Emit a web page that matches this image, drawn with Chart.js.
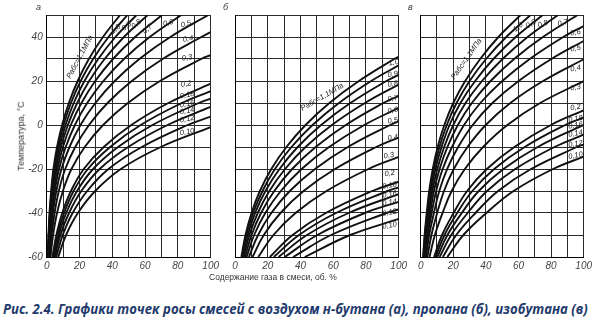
<!DOCTYPE html>
<html>
<head>
<meta charset="utf-8">
<script src="https://cdn.jsdelivr.net/npm/chart.js@4.4.1/dist/chart.umd.min.js"></script>
<style>
  html, body { margin: 0; padding: 0; background: #fff; }
  body { width: 600px; height: 327px; position: relative; overflow: hidden; font-family: "Liberation Sans", Arial, sans-serif; }
  canvas { position: absolute; top: 0; }
  .txt { position: absolute; white-space: nowrap; color: #333; }
</style>
</head>
<body>
<canvas id="chartA" width="222" height="277" style="left:0px"></canvas>
<canvas id="chartB" width="185" height="277" style="left:225px"></canvas>
<canvas id="chartC" width="185" height="277" style="left:410px"></canvas>

<div class="txt" style="left:36px;top:2px;font-size:9px;font-style:italic">а</div>
<div class="txt" style="left:223px;top:2px;font-size:9px;font-style:italic">б</div>
<div class="txt" style="left:408px;top:2px;font-size:9px;font-style:italic">в</div>
<div class="txt" id="yTitle" style="font-size:9px">Температура, °С</div>
<div class="txt" id="xTitle" style="font-size:8.5px">Содержание газа в смеси, об. %</div>
<div class="txt" id="caption">Рис. 2.4. Графики точек росы смесей с воздухом н-бутана (а), пропана (б), изобутана (в)</div>

<script>
// temperature levels (°C) used for every curve, x values below are read at these levels
const tempLevels = [-60, -50, -40, -30, -20, -10, 0, 10, 20, 30, 40, 50];

// absolute pressure of each curve, MPa (same order in all panels)
const pressures = [1.1, 1.0, 0.9, 0.8, 0.7, 0.6, 0.5, 0.4, 0.3, 0.2, 0.18, 0.16, 0.14, 0.12, 0.10];

// а — н-бутан: gas content, % at tempLevels
const butaneX = [
  [0.6, 1.1, 1.7, 2.7, 4.1, 6.3, 9.4, 13.5, 18.9, 25.7, 34.3, 44.8],
  [0.7, 1.2, 1.9, 3.0, 4.5, 7.0, 10.3, 14.8, 20.7, 28.3, 37.7, 49.3],
  [0.8, 1.3, 2.1, 3.3, 5.0, 7.7, 11.5, 16.5, 23.0, 31.4, 41.9, 54.8],
  [0.9, 1.5, 2.4, 3.7, 5.7, 8.7, 12.9, 18.6, 25.9, 35.3, 47.1, 61.6],
  [1.0, 1.7, 2.7, 4.2, 6.5, 9.9, 14.7, 21.2, 29.6, 40.4, 53.9, 70.4],
  [1.2, 2.0, 3.2, 4.9, 7.5, 11.6, 17.2, 24.7, 34.6, 47.1, 62.8, 82.1],
  [1.4, 2.4, 3.8, 5.9, 9.0, 13.9, 20.6, 29.7, 41.5, 56.5, 75.4, 98.6],
  [1.8, 3.0, 4.8, 7.4, 11.3, 17.4, 25.8, 37.1, 51.9, 70.7, 94.3],
  [2.3, 3.9, 6.3, 9.9, 15.1, 23.2, 34.4, 49.5, 69.1, 94.2],
  [3.5, 5.9, 9.5, 14.8, 22.6, 34.8, 51.6, 74.2],
  [3.9, 6.6, 10.6, 16.4, 25.1, 38.7, 57.3, 82.4],
  [4.4, 7.4, 11.9, 18.5, 28.3, 43.5, 64.5, 92.8],
  [5.0, 8.4, 13.6, 21.1, 32.3, 49.7, 73.7],
  [5.8, 9.8, 15.8, 24.7, 37.7, 58.0, 86.0],
  [7.0, 11.8, 19.0, 29.6, 45.2, 69.6]
];
// temperature where the curve reaches 100 % (null = leaves through the top)
const butaneEndT = [null, null, null, null, null, null, null, 42.2, 31.8, 18.8, 15.4, 12.0, 8.2, 3.8, -1.0];

// б — пропан
const propaneX = [
  [3.9, 6.4, 10.1, 15.2, 22.2, 31.4, 43.1, 57.7, 75.7, 97.3],
  [4.3, 7.0, 11.1, 16.8, 24.4, 34.5, 47.4, 63.5, 83.2],
  [4.7, 7.8, 12.3, 18.6, 27.2, 38.3, 52.6, 70.5, 92.5],
  [5.3, 8.8, 13.9, 21.0, 30.6, 43.1, 59.2, 79.4],
  [6.1, 10.1, 15.9, 24.0, 34.9, 49.3, 67.7, 90.7],
  [7.1, 11.7, 18.5, 28.0, 40.7, 57.5, 79.0],
  [8.5, 14.1, 22.2, 33.5, 48.9, 69.0, 94.8],
  [10.7, 17.6, 27.8, 41.9, 61.1, 86.3],
  [14.2, 23.5, 37.0, 55.9, 81.5],
  [21.3, 35.2, 55.5, 83.9],
  [23.7, 39.1, 61.7, 93.2],
  [26.6, 44.0, 69.4],
  [30.4, 50.3, 79.3],
  [35.5, 58.7, 92.5],
  [42.6, 70.4]
];
const propaneEndT = [31.0, 27.1, 22.8, 18.4, 13.3, 7.8, 1.6, -5.7, -14.5, -25.8, -28.4, -31.4, -34.9, -38.4, -42.7];

// в — изобутан
const isobutaneX = [
  [1.5, 2.4, 3.7, 5.2, 7.4, 10.4, 14.5, 20.0, 27.3, 36.5, 47.7, 61.3],
  [1.6, 2.6, 4.0, 5.7, 8.1, 11.5, 16.0, 22.0, 30.0, 40.1, 52.5, 67.4],
  [1.8, 2.9, 4.5, 6.3, 9.0, 12.8, 17.7, 24.4, 33.4, 44.6, 58.3, 74.9],
  [2.0, 3.3, 5.0, 7.1, 10.2, 14.4, 20.0, 27.5, 37.6, 50.2, 65.6, 84.3],
  [2.3, 3.7, 5.8, 8.1, 11.6, 16.4, 22.8, 31.4, 42.9, 57.3, 75.0, 96.3],
  [2.7, 4.4, 6.7, 9.5, 13.5, 19.2, 26.6, 36.6, 50.1, 66.9, 87.5],
  [3.3, 5.2, 8.1, 11.4, 16.2, 23.0, 31.9, 44.0, 60.1, 80.2],
  [4.1, 6.6, 10.1, 14.3, 20.3, 28.7, 39.9, 55.0, 75.1],
  [5.4, 8.7, 13.4, 19.0, 27.1, 38.3, 53.2, 73.3],
  [8.2, 13.1, 20.2, 28.5, 40.6, 57.5, 79.9],
  [9.1, 14.6, 22.4, 31.7, 45.1, 63.8, 88.7],
  [10.2, 16.4, 25.2, 35.6, 50.8, 71.8],
  [11.6, 18.7, 28.8, 40.7, 58.0, 82.1],
  [13.6, 21.8, 33.6, 47.5, 67.7, 95.8],
  [16.3, 26.2, 40.3, 57.0, 81.2]
];
const isobutaneEndT = [null, null, null, null, null, 45.0, 38.2, 29.9, 19.9, 6.7, 3.4, 0.1, -4.4, -8.9, -14.4];

const xTicks = [0, 20, 40, 60, 80, 100];
const yTicks = [-60, -40, -20, 0, 20, 40];

// curve labels: text, gas %, °C, rotation
const butaneLabels = [
  ["1,0", 42, 43.6, -40], ["0,9", 48.7, 45, -40], ["0,8", 54.7, 45.9, -40], ["0,7", 61.4, 43.6, -40],
  ["0,6", 74.1, 46.4, -15], ["0,5", 85, 45.9, -15], ["0,4", 86.2, 39.1, -10], ["0,3", 85.6, 30.5, -10],
  ["0,2", 85, 18.6, -10], ["0,18", 85.6, 13.6, -10], ["0,16", 85.6, 9.5, -10], ["0,14", 85.6, 6.4, -10],
  ["0,12", 85.6, 2.7, -10], ["0,10", 85.6, -3.2, -10], ["Рабс=1,1МПа", 20.2, 30.9, -62]
];
const propaneLabels = [
  ["1,0", 97, 28.4, -10], ["0,9", 96.4, 23, -10], ["0,8", 96.4, 18.6, -10], ["0,7", 96.4, 12, -10],
  ["0,6", 96.4, 6.6, -10], ["0,5", 96.4, 2, -10], ["0,4", 96.4, -5.7, -10], ["0,3", 94, -13.9, -10],
  ["0,2", 94.5, -22, -10], ["0,18", 94.5, -27.5, -10], ["0,16", 94.5, -31.6, -10], ["0,14", 94.5, -35.2, -10],
  ["0,12", 94.5, -39.8, -10], ["0,10", 94.5, -45.7, -10], ["Рабс=1,1МПа", 53.3, 12.7, -30]
];
const isobutaneLabels = [
  ["1,0", 59.8, 44.5, -40], ["0,9", 67.7, 45.9, -30], ["0,8", 75, 45.9, -20], ["0,7", 87.1, 46.4, -15],
  ["0,6", 95, 42, -10], ["0,5", 95, 34.8, -10], ["0,4", 95, 25.7, -10], ["0,3", 95, 17, -10],
  ["0,2", 95, 8, -10], ["0,18", 95, 2.7, -10], ["0,16", 95, -0.2, -10], ["0,14", 95, -3.9, -10],
  ["0,12", 95, -8.6, -10], ["0,10", 95, -13.9, -10], ["Рабс=1,1МПа", 28.1, 30, -55]
];

// ===== curve labels plugin =====
const curveLabels = {
  id: "curveLabels",
  afterDatasetsDraw(chart, args, opts) {
    const { ctx, scales: { x, y } } = chart;
    ctx.save();
    ctx.fillStyle = "#222";
    ctx.textAlign = "center";
    ctx.textBaseline = "middle";
    (opts.items || []).forEach(([t, gx, gt, ang]) => {
      ctx.save();
      ctx.translate(x.getPixelForValue(gx), y.getPixelForValue(gt));
      ctx.rotate(ang * Math.PI / 180);
      ctx.font = t.length > 5 ? "italic 7.5px 'Liberation Sans', Arial" : "italic 7.5px 'Liberation Sans', Arial";
      ctx.fillText(t, 0, 0);
      ctx.restore();
    });
    ctx.restore();
  }
};

function makePanel(id, curvesX, endT, labels, yWidth, padRight, showY) {
  const datasets = curvesX.map((row, i) => {
    const pts = row.map((v, j) => ({ x: v, y: tempLevels[j] }));
    if (endT[i] !== null) pts.push({ x: 100, y: endT[i] });
    return {
      label: String(pressures[i]),
      data: pts,
      borderColor: "#111",
      borderWidth: 1.9,
      pointRadius: 0,
      tension: 0.4,
      fill: false
    };
  });
  return new Chart(document.getElementById(id), {
    type: "line",
    data: { datasets },
    options: {
      responsive: false,
      animation: false,
      layout: { padding: { left: 0, top: 15, right: padRight, bottom: 0 } },
      plugins: { legend: { display: false }, tooltip: { enabled: false }, curveLabels: { items: labels } },
      scales: {
        x: {
          type: "linear", min: 0, max: 100,
          afterFit: (s) => { s.height = 20; },
          grid: { color: "#2a2a2a", lineWidth: 1, drawTicks: false },
          border: { color: "#000", width: 1 },
          ticks: {
            stepSize: 10, autoSkip: false, maxRotation: 0, padding: 3, color: "#444",
            font: { size: 10, style: "italic", family: "'Liberation Sans', Arial" },
            callback: (v) => (xTicks.includes(v) ? v : "")
          }
        },
        y: {
          min: -60, max: 50,
          afterFit: (s) => { s.width = yWidth; },
          grid: { color: "#2a2a2a", lineWidth: 1, drawTicks: false },
          border: { color: "#000", width: 1 },
          ticks: {
            stepSize: 10, autoSkip: false, padding: 4, color: "#444",
            font: { size: 10, style: "italic", family: "'Liberation Sans', Arial" },
            callback: (v) => (showY && yTicks.includes(v) ? v : "")
          }
        }
      }
    },
    plugins: [curveLabels]
  });
}

makePanel("chartA", butaneX, butaneEndT, butaneLabels, 46.7, 10.3, true);
makePanel("chartB", propaneX, propaneEndT, propaneLabels, 10, 10, false);
makePanel("chartC", isobutaneX, isobutaneEndT, isobutaneLabels, 10.7, 10, false);

// ===== titles =====
const yTitle = document.getElementById("yTitle");
yTitle.style.left = (21 - yTitle.offsetWidth / 2) + "px";
yTitle.style.top = (136 - yTitle.offsetHeight / 2) + "px";
yTitle.style.transform = "rotate(-90deg)";

const xTitle = document.getElementById("xTitle");
xTitle.style.left = (273 - xTitle.offsetWidth / 2) + "px";
xTitle.style.top = (277 - xTitle.offsetHeight / 2) + "px";

const cap = document.getElementById("caption");
cap.style.font = "italic bold 14px 'Open Sans', sans-serif";
cap.style.color = "#1f3a6c";
cap.style.left = "3px";
cap.style.top = (308 - cap.offsetHeight / 2) + "px";
cap.style.transformOrigin = "left center";
cap.style.transform = "scaleX(" + (585 / cap.offsetWidth) + ")";
</script>
</body>
</html>
